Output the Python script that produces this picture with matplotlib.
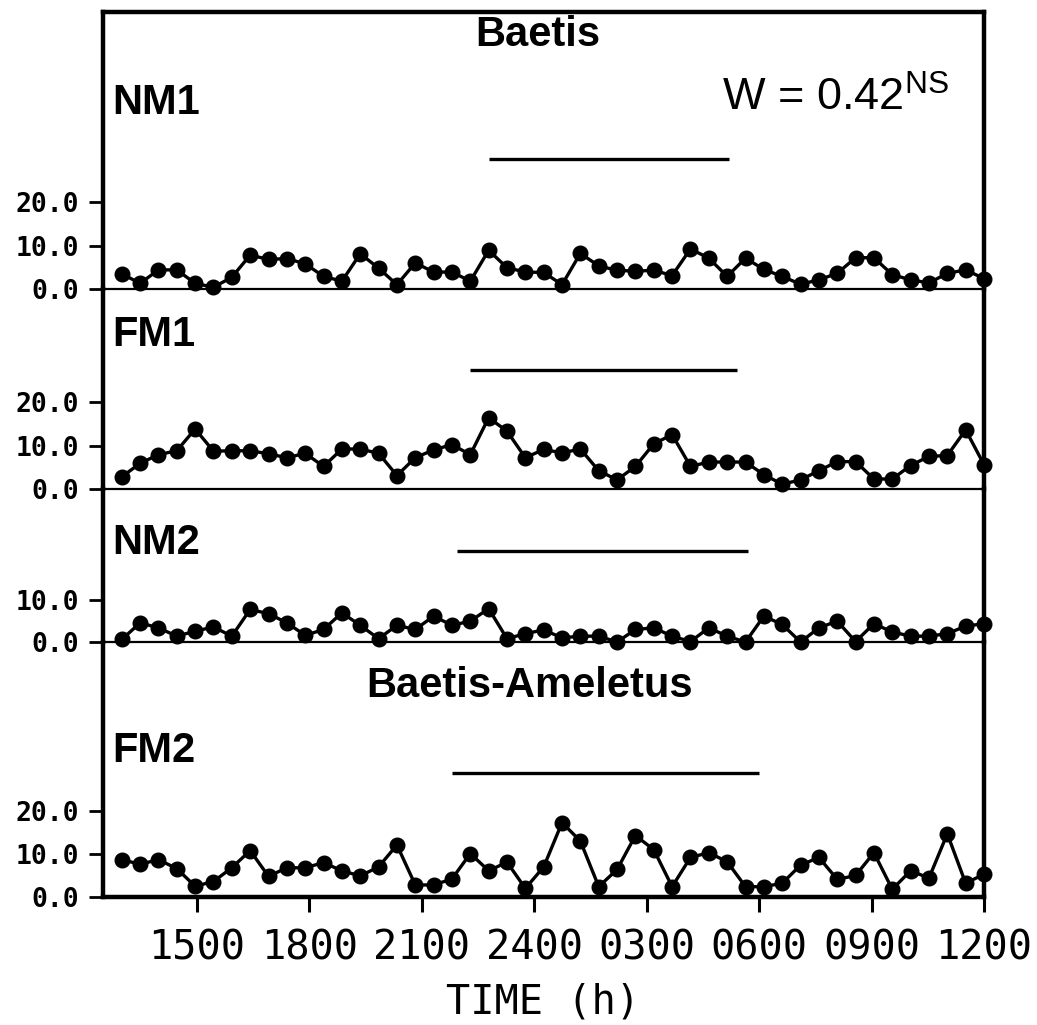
import matplotlib
matplotlib.use("Agg")
import matplotlib.pyplot as plt
import numpy as np

# Sampling times (hours since midnight of day 1): 48 samples from 13:00 to 12:00 next day
times = np.linspace(13.0, 36.0, 48)

# Drift densities for each channel
nm1 = [3.5, 1.3, 4.4, 4.4, 1.3, 0.4, 2.7, 7.8, 6.8, 7.0, 5.8, 2.9,
       1.8, 8.1, 4.8, 1.0, 6.0, 3.9, 3.9, 1.8, 8.9, 4.9, 3.9, 3.8,
       1.0, 8.2, 5.3, 4.3, 4.1, 4.3, 3.1, 9.2, 7.1, 2.9, 7.1, 4.5,
       2.9, 1.1, 2.1, 3.6, 7.2, 7.2, 3.3, 2.1, 1.4, 3.6, 4.4, 2.4]
fm1 = [2.8, 5.9, 7.9, 8.8, 13.8, 8.7, 8.8, 8.8, 8.1, 7.2, 8.2, 5.2,
       9.2, 9.2, 8.2, 3.1, 7.2, 9.0, 10.2, 7.9, 16.4, 13.3, 7.2, 9.1,
       8.3, 9.2, 4.2, 2.1, 5.2, 10.4, 12.5, 5.2, 6.2, 6.2, 6.2, 3.3,
       1.1, 2.1, 4.2, 6.3, 6.3, 2.3, 2.3, 5.4, 7.5, 7.7, 13.6, 5.6]
nm2 = [0.6, 4.6, 3.4, 1.4, 2.6, 3.6, 1.4, 7.8, 6.8, 4.6, 1.6, 3.0,
       7.0, 4.0, 0.8, 4.0, 3.0, 6.2, 4.0, 5.0, 8.0, 0.8, 2.0, 2.9,
       1.0, 1.4, 1.4, 0.0, 3.0, 3.4, 1.4, 0.1, 3.4, 1.4, 0.0, 6.2,
       4.2, 0.0, 3.4, 5.0, 0.1, 4.4, 2.4, 1.4, 1.4, 2.0, 3.8, 4.4]
fm2 = [8.7, 7.6, 8.7, 6.6, 2.5, 3.6, 6.8, 10.8, 4.8, 6.8, 6.8, 8.0,
       6.1, 4.9, 7.0, 12.1, 2.8, 2.8, 4.2, 10.1, 6.1, 8.1, 2.0, 7.0,
       17.3, 13.0, 2.4, 6.4, 14.3, 11.0, 2.4, 9.2, 10.3, 8.2, 2.4, 2.4,
       3.2, 7.4, 9.2, 4.1, 5.0, 10.3, 1.8, 6.1, 4.4, 14.7, 3.2, 5.3]

series = [nm1, fm1, nm2, fm2]
panel_names = ["NM1", "FM1", "NM2", "FM2"]

# Darkness periods (start, end in hours) and the level at which each bar is drawn
night_start = [22.8, 22.3, 21.95, 21.8]
night_end = [29.2, 29.4, 29.7, 30.0]
night_level = [30.0, 27.4, 21.8, 28.8]

ytick_sets = [[0, 10, 20], [0, 10, 20], [0, 10], [0, 10, 20]]
ytop = [63.7, 46.0, 36.7, 59.3]

xtick_pos = [15, 18, 21, 24, 27, 30, 33, 36]
xtick_lab = ["1500", "1800", "2100", "2400", "0300", "0600", "0900", "1200"]

W, H = 1037, 1025
fig = plt.figure(figsize=(W / 100, H / 100), dpi=100)

left_px, right_px = 103, 984
edges = [12, 289, 489, 642, 897]

mono = "DejaVu Sans Mono"
sans = "Liberation Sans"

axes = []
for k in range(4):
    top, bot = edges[k], edges[k + 1]
    ax = fig.add_axes([left_px / W, 1 - bot / H, (right_px - left_px) / W, (bot - top) / H])
    axes.append(ax)
    ax.plot(times, series[k], color="black", lw=2.4, marker="o", ms=10.5,
            mfc="black", mec="black", clip_on=False, zorder=3)
    ax.hlines(night_level[k], night_start[k], night_end[k], color="black", lw=2.4)
    ax.set_xlim(12.5, 36.0)
    ax.set_ylim(0, ytop[k])
    ax.set_yticks(ytick_sets[k])
    ax.set_yticklabels([f"{v:.1f}" for v in ytick_sets[k]],
                       fontfamily=mono, fontweight="bold", fontsize=19)
    ax.tick_params(axis="y", direction="out", length=10, width=2.0, pad=7)
    for side in ("left", "right"):
        ax.spines[side].set_linewidth(3.2)
    ax.spines["top"].set_visible(k == 0)
    ax.spines["top"].set_linewidth(3.2)
    ax.spines["bottom"].set_linewidth(3.2 if k == 3 else 1.6)
    if k < 3:
        ax.set_xticks([])
    else:
        ax.set_xticks(xtick_pos)
        ax.set_xticklabels(xtick_lab, fontfamily=mono, fontsize=29)
        ax.tick_params(axis="x", direction="out", length=11, width=2.2, pad=12)
        ax.set_xlabel("TIME (h)", fontfamily=mono, fontsize=29, labelpad=10)
    ax.patch.set_visible(False)


def ftext(x, y, s, **kw):
    fig.text(x / W, 1 - y / H, s, **kw)


label_style = dict(fontfamily=sans, fontweight="bold", fontsize=30, va="baseline")
ftext(538, 46, "Baetis", ha="center", **label_style)
ftext(530, 697, "Baetis-Ameletus", ha="center", **label_style)
for name, y in zip(panel_names, [114, 346, 554, 762]):
    ftext(112, y, name, ha="left", **label_style)
ftext(722, 111, r"W = 0.42$^{\mathregular{NS}}$", ha="left", va="baseline",
      fontfamily=sans, fontsize=32.5)

fig.savefig("out.png", dpi=100)
